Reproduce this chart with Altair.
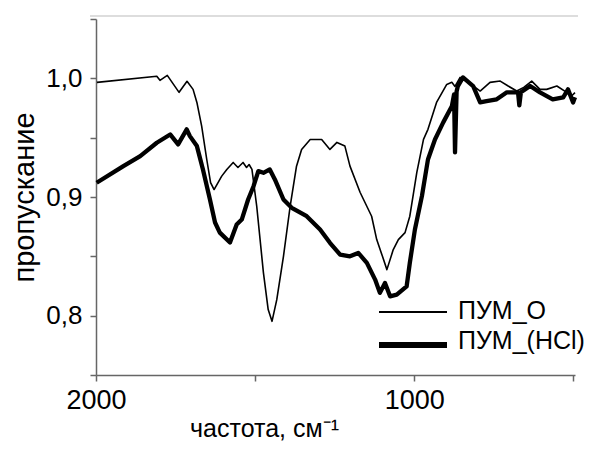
import altair as alt
import pandas as pd

series_names = ["ПУМ_О", "ПУМ_(HCl)"]

# ПУМ_О (thin line): wavenumber, transmittance
wn_o = [1997, 1809, 1799, 1776, 1739, 1714, 1695, 1683, 1668, 1652, 1640, 1629,
        1605, 1589, 1569, 1554, 1538, 1527, 1519, 1510, 1495, 1474, 1459, 1447,
        1432, 1411, 1390, 1370, 1354, 1327, 1291, 1265, 1243, 1218, 1202, 1170,
        1134, 1118, 1100, 1086, 1066, 1050, 1029, 1014, 992, 971, 957, 930,
        898, 882, 872, 856, 825, 793, 762, 730, 705, 678, 656, 631, 605, 584,
        552, 521, 506, 495]
t_o = [0.9966, 1.0017, 0.9983, 1.0025, 0.9882, 0.9975, 0.9907, 0.9797, 0.9597,
       0.9316, 0.9122, 0.9063, 0.9176, 0.9232, 0.9291, 0.9249, 0.9291, 0.9249,
       0.9274, 0.9232, 0.8922, 0.8363, 0.8051, 0.7952, 0.8135, 0.8500, 0.8922,
       0.9260, 0.9401, 0.9485, 0.9485, 0.9401, 0.9460, 0.9429, 0.9260, 0.9038,
       0.8838, 0.8641, 0.8500, 0.8388, 0.8557, 0.8641, 0.8700, 0.8838, 0.9207,
       0.9485, 0.9570, 0.9797, 0.9949, 0.9966, 0.9932, 1.0008, 0.9958, 0.9893,
       0.9966, 0.9977, 0.9935, 0.9893, 0.9924, 0.9977, 0.9907, 0.9907, 0.9935,
       0.9882, 0.9851, 0.9880]

# ПУМ_(HCl) (thick line)
wn_hcl = [1998, 1914, 1861, 1809, 1767, 1742, 1715, 1705, 1683, 1664, 1642, 1626,
          1611, 1579, 1558, 1542, 1522, 1505, 1490, 1474, 1454, 1438, 1411, 1385,
          1338, 1296, 1265, 1233, 1202, 1176, 1149, 1123, 1108, 1092, 1076, 1055,
          1024, 1014, 998, 976, 957, 935, 909, 882, 875, 872, 867, 863, 847,
          815, 793, 773, 741, 709, 674, 670, 665, 636, 605, 565, 532, 517, 501, 495]
t_hcl = [0.9120, 0.9260, 0.9344, 0.9457, 0.9527, 0.9443, 0.9570, 0.9513, 0.9429,
         0.9232, 0.8979, 0.8785, 0.8700, 0.8616, 0.8768, 0.8810, 0.8979, 0.9091,
         0.9218, 0.9204, 0.9232, 0.9148, 0.8979, 0.8909, 0.8838, 0.8726, 0.8614,
         0.8515, 0.8500, 0.8529, 0.8445, 0.8304, 0.8192, 0.8276, 0.8163, 0.8177,
         0.8247, 0.8445, 0.8726, 0.9007, 0.9316, 0.9485, 0.9629, 0.9764, 0.9865,
         0.9376, 0.9890, 0.9935, 1.0008, 0.9935, 0.9797, 0.9808, 0.9823, 0.9882,
         0.9882, 0.9772, 0.9882, 0.9935, 0.9882, 0.9823, 0.9840, 0.9907, 0.9797,
         0.9840]

x_ticks = [2000, 1500, 1000, 500]
y_ticks = [0.75, 0.8, 0.85, 0.9, 0.95, 1.0, 1.05]

rows = []
for name, xs, ys in ((series_names[0], wn_o, t_o), (series_names[1], wn_hcl, t_hcl)):
    for i, (x, y) in enumerate(zip(xs, ys)):
        rows.append({"series": name, "wn": x, "t": y, "i": i})
df = pd.DataFrame(rows)
one = pd.DataFrame({"k": [0]})

FONT = "Liberation Sans"
W, H = 479, 356

lines = alt.Chart(df).mark_line(color="black", strokeJoin="round").encode(
    x=alt.X("wn:Q",
            scale=alt.Scale(domain=[495, 2000], reverse=True, nice=False, zero=False),
            axis=alt.Axis(values=x_ticks, format="d", labelFlush=False,
                          labelExpr="(datum.value == 2000 || datum.value == 1000) ? datum.label : ''",
                          title="частота, см⁻¹", titleX=168, titleY=61,
                          titleAlign="center", titleBaseline="alphabetic",
                          labelFontSize=27, labelPadding=6, titleFontSize=25)),
    y=alt.Y("t:Q",
            scale=alt.Scale(domain=[0.75, 1.05], nice=False, zero=False),
            axis=alt.Axis(values=y_ticks,
                          labelExpr="abs(datum.value*10 - round(datum.value*10)) < 0.001 ? replace(format(datum.value, '.1f'), '.', ',') : ''",
                          title="пропускание", titleX=-72, titleY=H / 2,
                          titleAlign="center", titleBaseline="middle",
                          labelFontSize=26, labelPadding=8, titleFontSize=29)),
    strokeWidth=alt.StrokeWidth("series:N",
                                scale=alt.Scale(domain=series_names, range=[1.6, 4.3]),
                                legend=None),
    detail="series:N",
    order=alt.Order("i:Q"),
)

top_rule = alt.Chart(one).mark_rule(color="#dddddd", strokeWidth=2).encode(
    x=alt.value(-6), x2=alt.value(482), y=alt.value(-3))

leg_thin = alt.Chart(one).mark_rule(color="black", strokeWidth=2).encode(
    x=alt.value(283), x2=alt.value(351), y=alt.value(293))
leg_thick = alt.Chart(one).mark_rule(color="black", strokeWidth=6).encode(
    x=alt.value(283), x2=alt.value(351), y=alt.value(326))
leg_t1 = alt.Chart(one).mark_text(align="left", baseline="middle", fontSize=25,
                                  font=FONT, color="black", text=series_names[0]).encode(
    x=alt.value(362), y=alt.value(292))
leg_t2 = alt.Chart(one).mark_text(align="left", baseline="middle", fontSize=25,
                                  font=FONT, color="black", text=series_names[1]).encode(
    x=alt.value(362), y=alt.value(322))

chart = alt.layer(lines, top_rule, leg_thin, leg_thick, leg_t1, leg_t2).properties(
    width=W, height=H,
    autosize=alt.AutoSizeParams(type="none"),
    padding={"left": 88, "top": 11, "right": 15, "bottom": 67},
).configure_view(stroke=None).configure_axis(
    grid=False, domainColor="#666666", tickColor="#666666", domainWidth=1.5,
    tickWidth=1.5, tickSize=6, labelFont=FONT, titleFont=FONT,
    labelColor="black", titleColor="black", titleFontWeight="normal",
)

chart.save("out.html", embed_options={"renderer": "svg", "actions": False})
